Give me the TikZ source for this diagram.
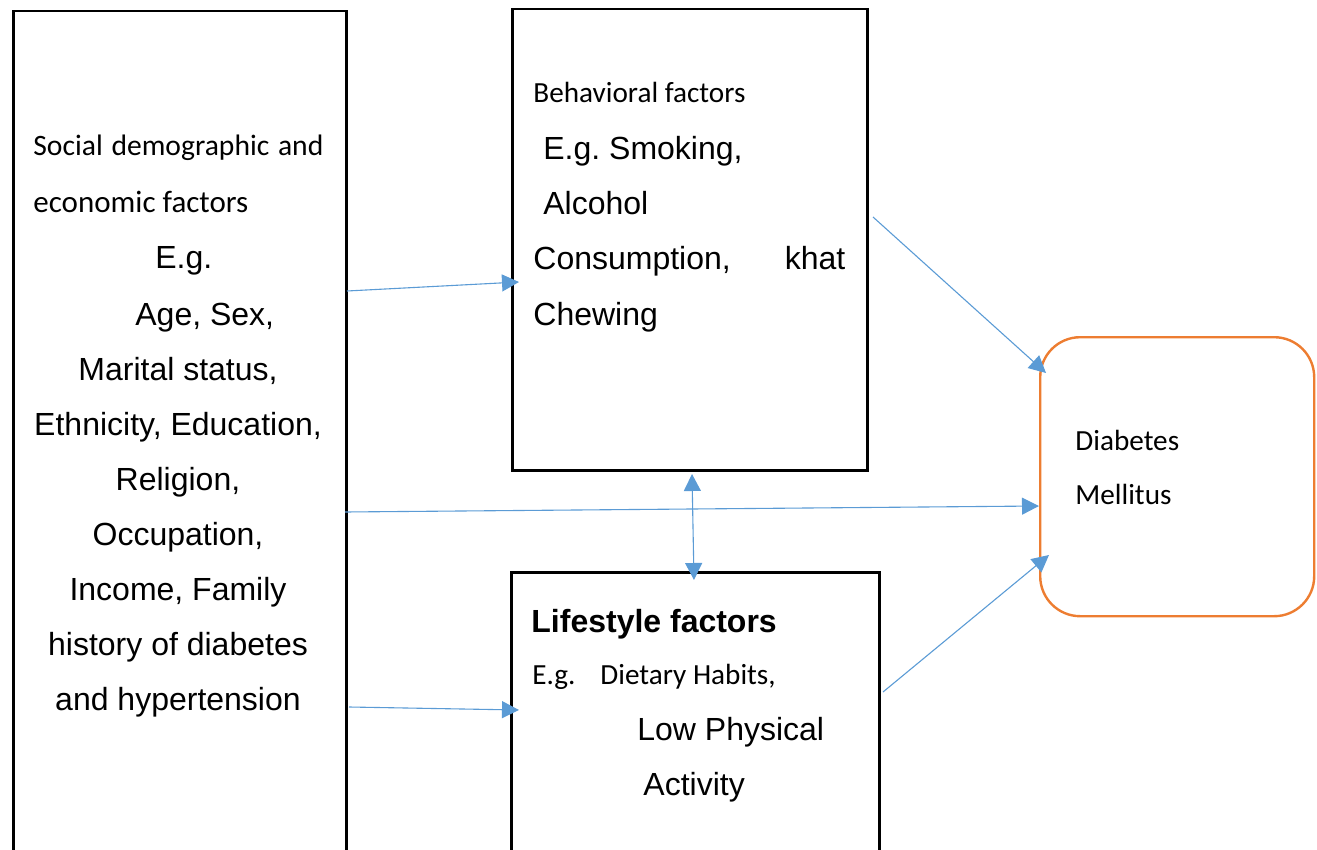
\documentclass[tikz,border=0pt]{standalone}
\usepackage{fontspec}
\setmainfont{Liberation Sans}
\newfontfamily\calfont{Carlito}
\usetikzlibrary{arrows.meta}

\definecolor{linkblue}{RGB}{91,155,213}
\definecolor{dmorange}{RGB}{237,125,49}

\tikzset{
  factorbox/.style={draw=black,line width=1.25pt,anchor=north west,inner sep=0pt},
  outcomebox/.style={draw=dmorange,line width=1.2pt,anchor=north west,inner sep=0pt,rounded corners=20pt},
  txt/.style={anchor=base west,inner sep=0pt,font=\fontsize{16pt}{19pt}\selectfont},
  ctxt/.style={anchor=base,inner sep=0pt,font=\fontsize{16pt}{19pt}\selectfont},
  ctx/.style={anchor=base west,inner sep=0pt,font=\calfont\fontsize{14.6pt}{17pt}\selectfont},
  link/.style={draw=linkblue,line width=0.55pt,-{Triangle[length=8.5pt,width=8.5pt]}},
  dlink/.style={draw=linkblue,line width=0.55pt,{Triangle[length=8.5pt,width=8.5pt]}-{Triangle[length=8.5pt,width=8.5pt]}}
}

\begin{document}
\begin{tikzpicture}[x=0.5pt,y=-0.5pt]
\clip (0,0) rectangle (1317,850);
% boxes
\node[factorbox,minimum width=166.5pt,minimum height=430pt] (social) at (12,10) {};
\node[factorbox,minimum width=177.5pt,minimum height=230.5pt] (behav) at (511,8) {};
\node[factorbox,minimum width=184pt,minimum height=149.5pt] (life) at (510,571) {};
\node[outcomebox,minimum width=137pt,minimum height=139.5pt] (dm) at (1039,336) {};

% social demographic text
\node[ctx,font=\calfont\fontsize{14.8pt}{18pt}\selectfont] (soc1) at (33,156) {\makebox[145pt][s]{Social demographic and}};
\node[ctx,font=\calfont\fontsize{15.5pt}{18pt}\selectfont] (soc2) at (33,213) {economic factors};
\node[txt] (soc3) at (155,269) {E.g.};
\node[txt] (soc4) at (135,325) {Age, Sex,};
\node[ctxt] (soc5) at (178,380) {Marital status,};
\node[ctxt] (soc6) at (178,435) {Ethnicity, Education,};
\node[ctxt] (soc7) at (178,490) {Religion,};
\node[ctxt] (soc8) at (178,545) {Occupation,};
\node[ctxt] (soc9) at (178,600) {Income, Family};
\node[ctxt] (soc10) at (178,655) {history of diabetes};
\node[ctxt] (soc11) at (178,710) {and hypertension};

% behavioral text
\node[ctx] (beh1) at (533,103) {Behavioral factors};
\node[txt] (beh2) at (543,160) {E.g.\ Smoking,};
\node[txt] (beh3) at (543,215) {Alcohol};
\node[txt] (beh4) at (533,270) {\makebox[156pt][s]{Consumption, khat}};
\node[txt] (beh5) at (533,325) {Chewing};

% lifestyle text
\node[txt,font=\bfseries\fontsize{16pt}{19pt}\selectfont] (lif1) at (531,632) {Lifestyle factors};
\node[ctx] (lif2) at (532,684) {E.g.};
\node[ctx] (lif3) at (600,684) {Dietary Habits,};
\node[txt] (lif4) at (637,740) {Low Physical};
\node[txt] (lif5) at (643,795) {Activity};

% outcome text
\node[ctx] (dm1) at (1075,450) {Diabetes};
\node[ctx] (dm2) at (1075,504) {Mellitus};

% arrow ends
\coordinate (s1) at (347,291);
\coordinate (e1) at (519,282);
\coordinate (s2) at (873,217);
\coordinate (e2) at (1046,373);
\coordinate (s3) at (345,512);
\coordinate (e3) at (1039,506);
\coordinate (s4) at (883,692);
\coordinate (e4) at (1049,555);
\coordinate (s5) at (692,474);
\coordinate (e5) at (694,580);
\coordinate (s6) at (349,707);
\coordinate (e6) at (519,710);

\draw[link] (s1) -- (e1);
\draw[link] (s2) -- (e2);
\draw[link] (s3) -- (e3);
\draw[link] (s4) -- (e4);
\draw[dlink] (s5) -- (e5);
\draw[link] (s6) -- (e6);
\end{tikzpicture}
\end{document}
